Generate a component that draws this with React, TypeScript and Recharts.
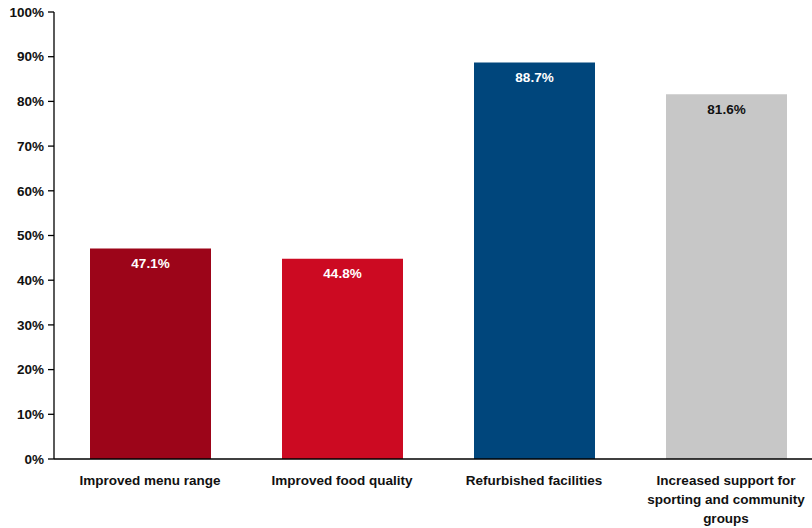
import React from 'react';
import { BarChart, Bar, XAxis, YAxis, Cell, LabelList } from 'recharts';

const categories = [
  'Improved menu range',
  'Improved food quality',
  'Refurbished facilities',
  'Increased support for sporting and community groups',
];
const categoryLines = [
  ['Improved menu range'],
  ['Improved food quality'],
  ['Refurbished facilities'],
  ['Increased support for', 'sporting and community', 'groups'],
];
const values = [47.1, 44.8, 88.7, 81.6];
const barColors = ['#9C0519', '#CC0A22', '#00467C', '#C7C7C7'];
const labelColors = ['#FFFFFF', '#FFFFFF', '#FFFFFF', '#111111'];
const yTicks = [0, 10, 20, 30, 40, 50, 60, 70, 80, 90, 100];
const boundaryTicks = [0, 1, 2, 3, 4];

const data = categories.map((name, i) => ({ name, value: values[i] }));

const FONT = 'Liberation Sans, Arial, sans-serif';

const CatTick = (props: any) => {
  const { x, y, payload } = props;
  const idx = categories.indexOf(payload.value);
  const lines = idx >= 0 ? categoryLines[idx] : [String(payload.value)];
  return (
    <text
      x={x}
      y={y + 15}
      textAnchor="middle"
      style={{ fontFamily: FONT, fontSize: 13.5, fontWeight: 700, fill: '#111' }}
    >
      {lines.map((ln, i) => (
        <tspan key={i} x={x} dy={i === 0 ? '0.71em' : 19}>
          {ln}
        </tspan>
      ))}
    </text>
  );
};

const ValueLabel = (props: any) => {
  const { x, y, width, value, index } = props;
  return (
    <text
      x={x + width / 2}
      y={y + 10}
      dy="0.71em"
      textAnchor="middle"
      style={{ fontFamily: FONT, fontSize: 13.5, fontWeight: 700, fill: labelColors[index] }}
    >
      {`${value.toFixed(1)}%`}
    </text>
  );
};

export default function App() {
  return (
    <div
      style={{
        position: 'fixed',
        left: 0,
        top: 0,
        width: 812,
        height: 528,
        overflow: 'hidden',
        background: '#fff',
      }}
    >
      <BarChart
        width={822}
        height={528}
        data={data}
        margin={{ top: 12, right: 0, bottom: 0, left: 0 }}
        barSize={121}
      >
        <XAxis
          xAxisId="bounds"
          type="number"
          domain={[0, 4]}
          ticks={boundaryTicks}
          tick={false}
          tickSize={6}
          height={1}
          axisLine={{ stroke: '#000', strokeWidth: 1.3 }}
          tickLine={{ stroke: '#000', strokeWidth: 1.3 }}
        />
        <XAxis
          xAxisId="cat"
          dataKey="name"
          height={68}
          axisLine={false}
          tickLine={false}
          tickSize={0}
          tickMargin={0}
          interval={0}
          tick={<CatTick />}
        />
        <YAxis
          width={54}
          domain={[0, 100]}
          ticks={yTicks}
          tickFormatter={(v: number) => `${v}%`}
          tickSize={6}
          tickMargin={4}
          interval={0}
          axisLine={{ stroke: '#000', strokeWidth: 1.3 }}
          tickLine={{ stroke: '#000', strokeWidth: 1.3 }}
          tick={{ fontFamily: FONT, fontSize: 13.5, fontWeight: 700, fill: '#111' }}
        />
        <Bar xAxisId="cat" dataKey="value" isAnimationActive={false}>
          {data.map((d, i) => (
            <Cell key={d.name} fill={barColors[i]} />
          ))}
          <LabelList dataKey="value" content={<ValueLabel />} />
        </Bar>
      </BarChart>
    </div>
  );
}
